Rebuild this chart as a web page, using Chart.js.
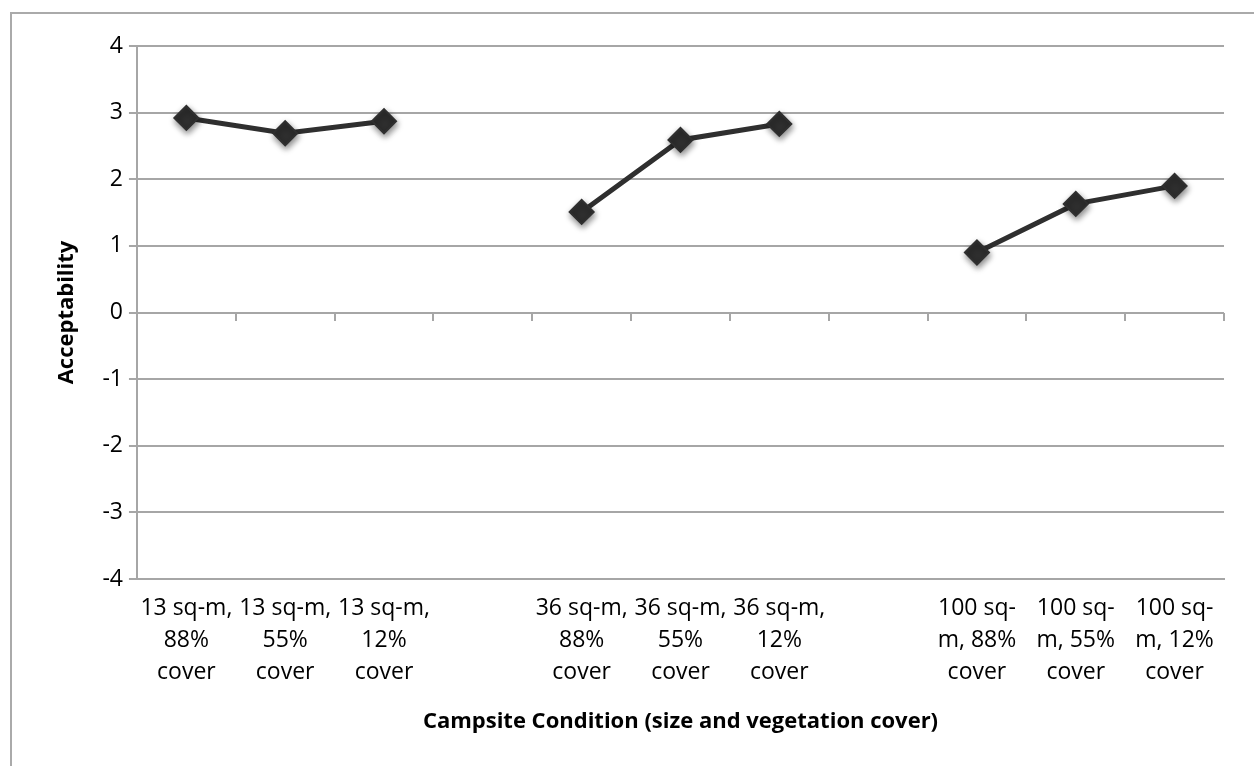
<!DOCTYPE html>
<html>
<head>
<meta charset="utf-8">
<script src="https://cdn.jsdelivr.net/npm/chart.js@4.4.0/dist/chart.umd.min.js"></script>
<style>
  html, body { margin: 0; padding: 0; background: #fff; }
  #wrap { position: relative; width: 1254px; height: 766px; }
  #frame { position: absolute; left: 10px; top: 12px; right: -4px; bottom: -4px;
           border-left: 2px solid #aaa; border-top: 2px solid #aaa; }
  canvas { position: absolute; left: 0; top: 0; }
</style>
</head>
<body>
<div id="wrap">
  <div id="frame"></div>
  <canvas id="chart" width="1254" height="766"></canvas>
</div>
<script>
// campsite conditions (blank slots separate the size groups)
const categories = [
  ['13 sq-m,', '88%', 'cover'],
  ['13 sq-m,', '55%', 'cover'],
  ['13 sq-m,', '12%', 'cover'],
  '',
  ['36 sq-m,', '88%', 'cover'],
  ['36 sq-m,', '55%', 'cover'],
  ['36 sq-m,', '12%', 'cover'],
  '',
  ['100 sq-', 'm, 88%', 'cover'],
  ['100 sq-', 'm, 55%', 'cover'],
  ['100 sq-', 'm, 12%', 'cover']
];
const acceptability = [2.92, 2.69, 2.87, null, 1.51, 2.59, 2.83, null, 0.90, 1.63, 1.90];
const yMin = -4, yMax = 4, yStep = 1;

const gridGray = '#a6a6a6';
const markColor = '#2f2f2f';
const fontFamily = '"Open Sans", "Noto Sans", sans-serif';

// soft drop shadow under the markers, like the spreadsheet original
const markerShadow = {
  id: 'markerShadow',
  beforeDatasetDraw(chart, args) {
    if (args.index !== 1) return;
    const ctx = chart.ctx;
    ctx.save();
    ctx.shadowColor = 'rgba(0,0,0,0.45)';
    ctx.shadowBlur = 6;
    ctx.shadowOffsetX = 1;
    ctx.shadowOffsetY = 3;
  },
  afterDatasetDraw(chart, args) {
    if (args.index !== 1) return;
    chart.ctx.restore();
  }
};

new Chart(document.getElementById('chart'), {
  type: 'line',
  data: {
    labels: categories,
    datasets: [
      {
        label: 'Acceptability',
        data: acceptability,
        borderColor: markColor,
        borderWidth: 5,
        pointRadius: 0,
        spanGaps: false,
        order: 1
      },
      {
        label: 'markers',
        data: acceptability,
        showLine: false,
        pointStyle: 'rectRot',
        pointRadius: 12,
        pointBackgroundColor: markColor,
        pointBorderColor: markColor,
        pointBorderWidth: 2,
        order: 0
      }
    ]
  },
  plugins: [markerShadow],
  options: {
    responsive: false,
    animation: false,
    layout: { padding: { left: 50, right: 30, top: 46, bottom: 27 } },
    plugins: { legend: { display: false }, tooltip: { enabled: false } },
    scales: {
      x: {
        type: 'category',
        offset: true,
        grid: { display: false },
        border: { display: true, color: gridGray, width: 2 },
        ticks: {
          color: '#000',
          font: { family: fontFamily, size: 23, lineHeight: 1.4 },
          maxRotation: 0,
          autoSkip: false,
          padding: 5
        },
        title: {
          display: true,
          text: 'Campsite Condition (size and vegetation cover)',
          color: '#000',
          font: { family: fontFamily, size: 22, weight: 'bold' },
          padding: { top: 15 }
        }
      },
      x0: {
        type: 'category',
        axis: 'x',
        position: { y: 0 },
        offset: true,
        grid: { offset: true, drawOnChartArea: false, color: gridGray, lineWidth: 2, tickLength: 8 },
        border: { display: false },
        ticks: { display: false }
      },
      y: {
        min: yMin,
        max: yMax,
        ticks: {
          stepSize: yStep,
          color: '#000',
          font: { family: fontFamily, size: 23 },
          padding: 6
        },
        grid: { color: gridGray, lineWidth: 2, tickLength: 8 },
        border: { color: gridGray, width: 2 },
        title: {
          display: true,
          text: 'Acceptability',
          color: '#000',
          font: { family: fontFamily, size: 22, weight: 'bold' },
          padding: { bottom: 16 }
        }
      }
    }
  }
});
</script>
</body>
</html>
